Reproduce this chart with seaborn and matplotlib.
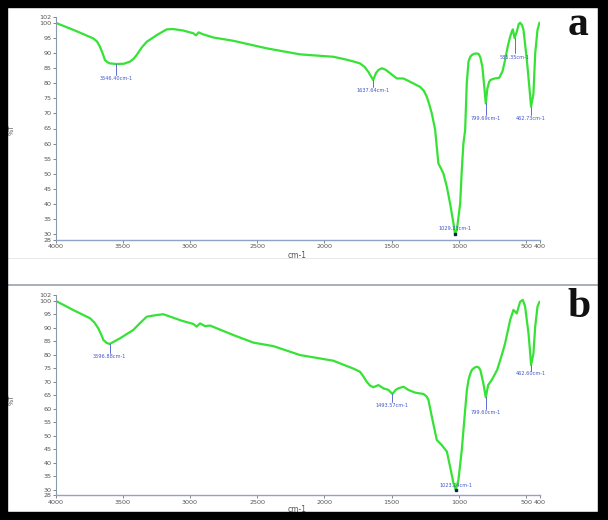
import numpy as np
import pandas as pd
import matplotlib
matplotlib.use("Agg")
import matplotlib.pyplot as plt
import seaborn as sns

# ---------------- data ----------------
wn_a = [4000, 3860, 3719, 3690, 3669, 3650, 3632, 3610, 3594, 3546.40, 3490, 3446, 3420, 3396,
        3360, 3321, 3280, 3247, 3173, 3124,
        3049, 2975, 2955, 2935, 2905, 2826, 2677, 2429, 2181, 1933, 1850, 1780, 1735, 1700, 1673,
        1637.64, 1615, 1598, 1573, 1545, 1524, 1490, 1461, 1412, 1362, 1288, 1260, 1238, 1220,
        1201, 1185, 1176, 1164, 1152, 1130, 1115, 1089,
        1065, 1040, 1029.23, 1015, 990, 978, 966, 953, 941, 928, 915, 903, 885, 866, 852, 840, 825, 812,
        799.69, 788, 775, 765, 735, 700, 675, 656, 635, 618, 605, 598, 585.35, 569, 555, 544, 530,
        519, 494, 475, 462.73, 445, 432, 415, 400]
t_a = [100.1, 97.6, 94.9, 93.8, 92.1, 90.0, 87.7, 86.9, 86.6, 86.4, 86.5, 87.2, 88.1, 89.4,
       91.8, 93.8, 95.0, 96.0, 97.9, 98.0,
       97.5, 96.6, 95.9, 96.9, 96.3, 95.2, 94.1, 91.6, 89.6, 88.8, 88.0, 87.2, 86.6, 85.4, 83.8,
       81.1, 83.5, 84.4, 85.0, 84.5, 83.8, 82.6, 81.6, 81.6, 80.5, 78.8, 77.5, 75.5, 73.0,
       70.0, 66.5, 64.5, 58.9, 53.4, 51.5, 50.1, 45.6,
       40.1, 33.5, 30.1, 31.2, 40.1, 51.2, 60.0, 64.5, 80.0, 87.2, 88.8, 89.4, 89.8, 89.9, 89.7, 88.6, 85.5, 79.5,
       73.3, 78.2, 80.4, 81.1, 81.6, 81.8, 84.0, 87.7, 92.5, 95.5, 97.3, 97.9, 95.0, 97.1, 99.6, 100.1, 99.3,
       97.7, 87.7, 78.5, 72.2, 76.6, 89.9, 97.7, 100.1]

wn_b = [4000, 3870, 3743, 3710, 3682, 3660, 3644, 3620, 3596.88, 3520, 3421, 3370, 3321, 3247,
        3198, 3124, 3061, 2975,
        2950, 2925, 2888, 2850, 2677, 2528, 2379, 2181, 1933, 1780, 1735, 1710, 1685, 1660, 1635,
        1598, 1561, 1524, 1493.57, 1470, 1449, 1412, 1375, 1325, 1263, 1240, 1226, 1201, 1164,
        1127, 1089, 1065, 1040,
        1023.24, 1003, 978, 953, 940, 928, 915, 903, 885, 866, 852, 840, 818, 799.60, 782, 755, 715,
        680, 656, 635, 618, 594, 569, 555, 544, 524, 507, 482, 470, 462.60, 445, 432, 415, 400]
t_b = [100.0, 96.6, 93.5, 91.9, 89.8, 87.5, 85.5, 84.4, 84.0, 86.1, 89.2, 91.8, 94.1, 94.7,
       95.0, 93.7, 92.6, 91.4,
       90.4, 91.6, 90.6, 90.8, 87.3, 84.5, 83.2, 79.9, 77.8, 74.8, 73.7, 72.0, 70.0, 68.6, 68.0,
       68.8, 67.6, 67.0, 65.5, 67.0, 67.6, 68.2, 67.0, 66.0, 65.5, 64.6, 63.3, 57.1, 48.5,
       46.6, 44.2, 38.6, 32.5,
       30.0, 33.7, 44.8, 59.6, 67.0, 70.7, 73.0, 74.4, 75.2, 75.6, 75.3, 74.4, 69.5, 64.3, 68.8, 70.7, 74.4,
       80.0, 84.2, 89.0, 92.9, 96.6, 95.3, 97.8, 99.6, 100.3, 97.8, 88.0, 81.0, 76.2, 80.5, 90.4, 97.8, 99.6]

# peak annotations: wavenumber, transmittance at peak, label level, text
peak_a_wn = [3546.40, 1637.64, 1029.23, 799.69, 585.35, 462.73]
peak_a_t = [86.4, 81.1, 30.1, 73.3, 95.0, 72.2]
peak_a_lbl = [81.7, 77.5, 31.9, 68.4, 88.7, 68.4]
peak_a_txt = ["3546.40cm-1", "1637.64cm-1", "1029.23cm-1", "799.69cm-1", "585.35cm-1", "462.73cm-1"]

peak_b_wn = [3596.88, 1493.57, 1023.24, 799.60, 462.60]
peak_b_t = [84.0, 65.5, 30.0, 64.3, 76.2]
peak_b_lbl = [79.5, 61.2, 31.6, 58.6, 72.9]
peak_b_txt = ["3596.88cm-1", "1493.57cm-1", "1023.24cm-1", "799.60cm-1", "462.60cm-1"]

x_ticks = [4000, 3500, 3000, 2500, 2000, 1500, 1000, 500, 400]
y_ticks = [28, 30, 35, 40, 45, 50, 55, 60, 65, 70, 75, 80, 85, 90, 95, 100, 102]
panel_letters = ["a", "b"]

# ---------------- drawing ----------------
sns.set_style("white")
plt.rcParams['font.family'] = ['DejaVu Sans']

W, H = 608, 520
fig = plt.figure(figsize=(W / 100, H / 100), dpi=100)
fig.patch.set_facecolor("white")

GREEN = "#36e236"
BLUE = "#4455cc"
TICKC = "#555555"


def fx(px):
    return px / W


def fy(py):
    return 1 - py / H


# axes rectangles (pixels)
rect_a = [fx(55.5), fy(240), (539.5 - 55.5) / W, (240 - 17) / H]
rect_b = [fx(55.5), fy(495.4), (539.5 - 55.5) / W, (495.4 - 295.3) / H]

panels = [
    (rect_a, wn_a, t_a, peak_a_wn, peak_a_t, peak_a_lbl, peak_a_txt, 130, 255),
    (rect_b, wn_b, t_b, peak_b_wn, peak_b_t, peak_b_lbl, peak_b_txt, 400, 509),
]

for i, (rect, wn, tt, pw, pt, pl, ptxt, ylab_py, xlab_py) in enumerate(panels):
    ax = fig.add_axes(rect)
    df = pd.DataFrame({"wn": wn, "T": tt})
    sns.lineplot(data=df, x="wn", y="T", ax=ax, color=GREEN, lw=1.6,
                 estimator=None, sort=True)
    ax.set_xlim(4000, 400)
    ax.set_ylim(28, 102)
    ax.set_facecolor("none")
    ax.set_xticks(x_ticks)
    ax.set_xticklabels([str(v) for v in x_ticks])
    ax.set_yticks(y_ticks)
    ax.set_yticklabels([str(v) for v in y_ticks])
    ax.tick_params(axis="both", labelsize=4.6, colors=TICKC, length=2, width=0.5,
                   pad=1, direction="out")
    ax.tick_params(axis="x", bottom=True)
    ax.tick_params(axis="y", left=True)
    for s in ["top", "right"]:
        ax.spines[s].set_visible(False)
    ax.spines["left"].set_color("#8899aa")
    ax.spines["bottom"].set_color("#8fa3c8")
    ax.spines["left"].set_linewidth(0.8)
    ax.spines["bottom"].set_linewidth(1.0)
    ax.set_xlabel("")
    ax.set_ylabel("")

    # peak markers and labels
    for w_, p_, l_, s_ in zip(pw, pt, pl, ptxt):
        if p_ - l_ > 2.5:
            ax.plot([w_, w_], [p_, l_ + 1.2], color=BLUE, lw=0.6)
        else:
            ax.plot([w_], [p_], marker="s", ms=1.8, color="#112244")
        ax.text(w_, l_, s_, color=BLUE, fontsize=3.6, ha="center", va="center")

    # axis titles
    fig.text(fx(12), fy(ylab_py), "%T", rotation=90, fontsize=4.8, color=TICKC,
             ha="center", va="center")
    fig.text(fx(297), fy(xlab_py), "cm-1", fontsize=5.5, color=TICKC,
             ha="center", va="center")

# panel letters
fig.text(fx(578), fy(25), panel_letters[0], fontsize=30, fontweight="bold",
         family="Liberation Serif", color="#111111", ha="center", va="center")
fig.text(fx(579), fy(307), panel_letters[1], fontsize=30, fontweight="bold",
         family="Liberation Serif", color="#111111", ha="center", va="center")

# separator lines between panels
fig.add_artist(plt.Line2D([fx(7), fx(598)], [fy(258), fy(258)], color="#e4e4e4", lw=0.6))
fig.add_artist(plt.Line2D([fx(7), fx(598)], [fy(285), fy(285)], color="#a7b0ba", lw=1.4))

# black frame (left, right, top, bottom)
frame = dict(color="black", transform=fig.transFigure, zorder=10)
fig.add_artist(plt.Rectangle((0, 0), fx(7), 1, **frame))
fig.add_artist(plt.Rectangle((fx(598), 0), 1 - fx(598), 1, **frame))
fig.add_artist(plt.Rectangle((0, fy(7)), 1, 1 - fy(7), **frame))
fig.add_artist(plt.Rectangle((0, 0), 1, fy(512), **frame))

fig.savefig("out.png", dpi=100, facecolor="white")
